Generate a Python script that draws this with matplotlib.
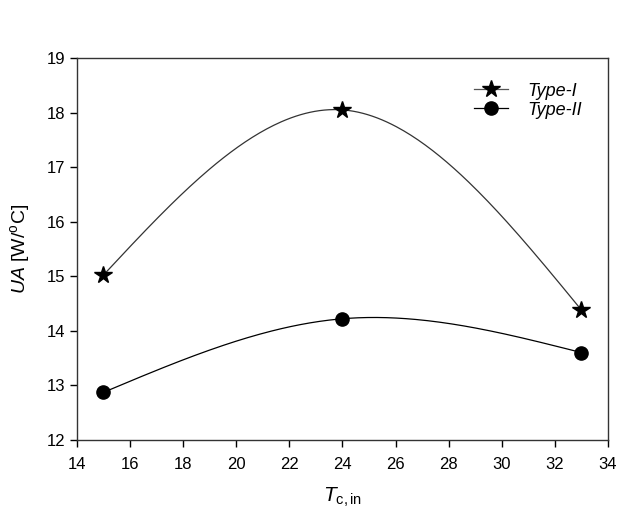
import numpy as np
import matplotlib
matplotlib.use("Agg")
import matplotlib.pyplot as plt

# data
t_cin = [15, 24, 33]
ua_type1 = [15.02, 18.05, 14.38]
ua_type2 = [12.87, 14.22, 13.60]
xticks = list(range(14, 35, 2))
yticks = list(range(12, 20))


def natural_spline(x, y, n=200):
    # natural cubic spline through the points, only used to draw the smooth line
    x = np.asarray(x, float)
    y = np.asarray(y, float)
    k = len(x)
    h = np.diff(x)
    A = np.zeros((k, k))
    b = np.zeros(k)
    A[0, 0] = A[-1, -1] = 1
    for i in range(1, k - 1):
        A[i, i - 1] = h[i - 1]
        A[i, i] = 2 * (h[i - 1] + h[i])
        A[i, i + 1] = h[i]
        b[i] = 6 * ((y[i + 1] - y[i]) / h[i] - (y[i] - y[i - 1]) / h[i - 1])
    M = np.linalg.solve(A, b)
    xs = np.linspace(x[0], x[-1], n)
    ys = np.empty_like(xs)
    for j, xv in enumerate(xs):
        i = min(np.searchsorted(x, xv, side="right") - 1, k - 2)
        a, c = x[i], x[i + 1]
        hi = h[i]
        ys[j] = (M[i] * (c - xv) ** 3 / (6 * hi) + M[i + 1] * (xv - a) ** 3 / (6 * hi)
                 + (y[i] / hi - M[i] * hi / 6) * (c - xv)
                 + (y[i + 1] / hi - M[i + 1] * hi / 6) * (xv - a))
    return xs, ys


plt.rcParams['font.family'] = ['Liberation Sans', 'DejaVu Sans']
plt.rcParams['mathtext.fontset'] = 'custom'
plt.rcParams['mathtext.rm'] = 'Liberation Sans'
plt.rcParams['mathtext.it'] = 'Liberation Sans:italic'

fig = plt.figure(figsize=(6.4, 5.23), dpi=100)
ax = fig.add_axes([0.120, 0.159, 0.830, 0.730])

xs, ys = natural_spline(t_cin, ua_type1)
ax.plot(xs, ys, color='#333333', lw=0.9)
xs, ys = natural_spline(t_cin, ua_type2)
ax.plot(xs, ys, color='black', lw=0.9)
ax.plot(t_cin, ua_type1, ls='none', marker='*', ms=13, color='black')
ax.plot(t_cin, ua_type2, ls='none', marker='o', ms=9.5, color='black')

# legend handles (line with marker in the middle)
h1, = ax.plot([], [], color='#555555', lw=0.9, marker='*', ms=13, mfc='black', mec='black')
h2, = ax.plot([], [], color='black', lw=0.9, marker='o', ms=9.5)
leg = ax.legend([h1, h2], ['Type-I', 'Type-II'], loc='upper left',
                bbox_to_anchor=(0.718, 0.978), frameon=False, handlelength=1.85,
                handletextpad=1.1, labelspacing=0.1, fontsize=13)
for t in leg.get_texts():
    t.set_fontstyle('italic')

ax.set_xlim(14, 34)
ax.set_ylim(12, 19)
ax.set_xticks(xticks)
ax.set_yticks(yticks)
ax.tick_params(direction='out', length=5, width=1, labelsize=12, colors='black')
ax.tick_params(axis='x', pad=7.5)
for s in ax.spines.values():
    s.set_linewidth(1.0)
    s.set_color('#333333')

ax.set_xlabel(r'$\mathit{T}_{\mathrm{c,in}}$', fontsize=15, labelpad=10)
ax.set_ylabel(r'$\mathit{UA}$ [W/$^{\mathrm{o}}$C]', fontsize=14, labelpad=10)

fig.savefig('out.png', dpi=100)
